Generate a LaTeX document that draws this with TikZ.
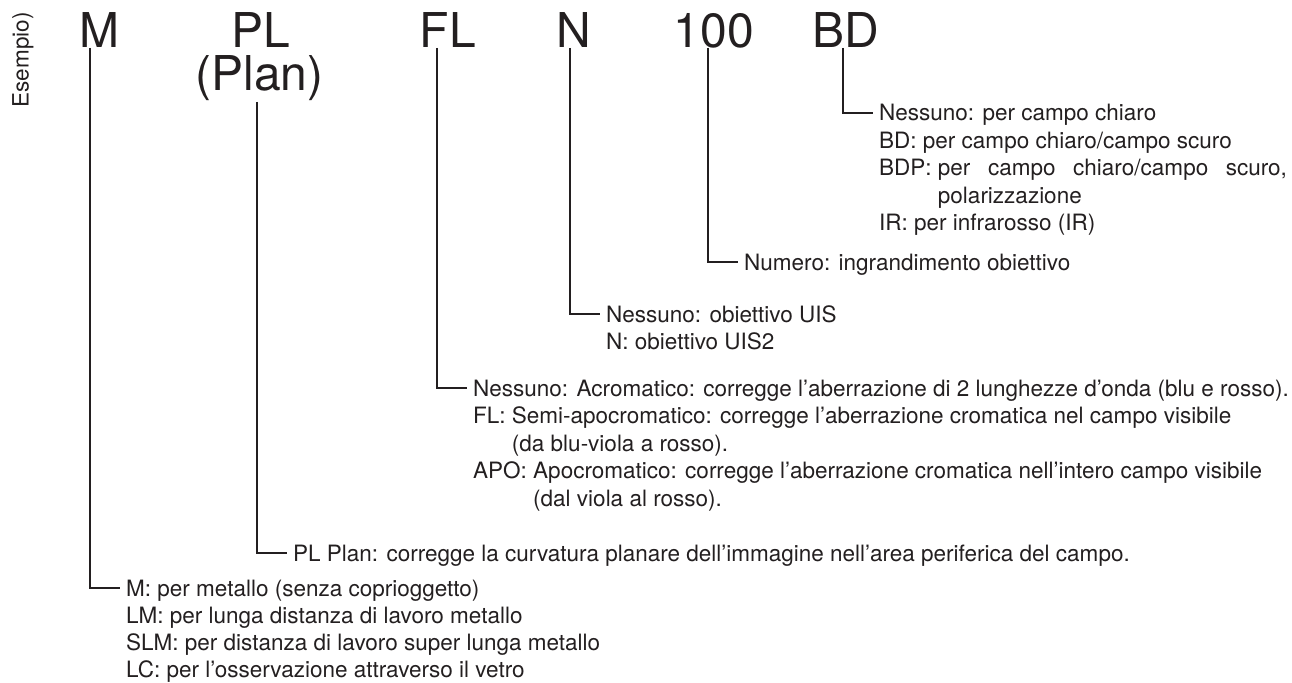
\documentclass[tikz,border=0pt]{standalone}
\usepackage{fontspec}
\setmainfont{TeX Gyre Heros}
\definecolor{ink}{HTML}{231F20}
\begin{document}
\begin{tikzpicture}[x=1bp,y=-1bp,
  big/.style={anchor=base,inner sep=0pt,font=\fontsize{48bp}{50bp}\selectfont,text=ink},
  txt/.style={anchor=base west,inner sep=0pt,font=\fontsize{22.5bp}{27bp}\selectfont,text=ink},
  conn/.style={draw=ink,line width=1.3bp}]
\useasboundingbox (0,0) rectangle (1292,683);
\node[txt,rotate=90,anchor=center] (es) at (23,60) {Esempio)};
% code letters
\node[big] (M) at (99.5,48) {M};
\node[big] (PL) at (261,48) {PL};
\node[big] (Plan) at (259.5,91) {(Plan)};
\node[big] (FL) at (448,48) {FL};
\node[big] (N) at (574,48) {N};
\node[big] (H) at (714,48) {100};
\node[big] (BD) at (846,48) {BD};
% BD block
\node[txt] (bd1) at (879,121) {Nessuno: per campo chiaro};
\node[txt] (bd2) at (879,148.5) {BD: per campo chiaro/campo scuro};
\node[txt] (bd3) at (879,176) {\rlap{BDP:}\phantom{BDP: }\makebox[349bp][s]{per campo chiaro/campo scuro,}};
\node[txt] (bd4) at (879,203.5) {\phantom{BDP: }polarizzazione};
\node[txt] (bd5) at (879,231) {IR: per infrarosso (IR)};
% 100
\node[txt] (num) at (744,270) {Numero: ingrandimento obiettivo};
% N block
\node[txt] (n1) at (606,322) {Nessuno: obiettivo UIS};
\node[txt] (n2) at (606,349.5) {N: obiettivo UIS2};
% FL block
\node[txt] (fl1) at (473,396) {Nessuno: Acromatico: corregge l’aberrazione di 2 lunghezze d’onda (blu e rosso).};
\node[txt] (fl2) at (473,423.5) {FL: Semi-apocromatico: corregge l’aberrazione cromatica nel campo visibile};
\node[txt] (fl3) at (473,451) {\phantom{FL: }(da blu-viola a rosso).};
\node[txt] (fl4) at (473,478.5) {APO: Apocromatico: corregge l’aberrazione cromatica nell’intero campo visibile};
\node[txt] (fl5) at (473,506) {\phantom{APO: }(dal viola al rosso).};
% PL
\node[txt] (pl) at (293,561) {PL Plan: corregge la curvatura planare dell’immagine nell’area periferica del campo.};
% M block
\node[txt] (m1) at (126,596) {M: per metallo (senza coprioggetto)};
\node[txt] (m2) at (126,623) {LM: per lunga distanza di lavoro metallo};
\node[txt] (m3) at (126,650) {SLM: per distanza di lavoro super lunga metallo};
\node[txt] (m4) at (126,677) {LC: per l’osservazione attraverso il vetro};
% connectors
\draw[conn] ([xshift=-9.5bp]M.base) |- ([xshift=-6bp,yshift=8bp]m1.base west);
\draw[conn] ([xshift=-2.5bp,yshift=-11bp]Plan.base) |- ([xshift=-6bp,yshift=8bp]pl.base west);
\draw[conn] ([xshift=-11bp]FL.base) |- ([xshift=-6bp,yshift=8bp]fl1.base west);
\draw[conn] ([xshift=-4bp]N.base) |- ([xshift=-6bp,yshift=8bp]n1.base west);
\draw[conn] ([xshift=-6bp]H.base) |- ([xshift=-6bp,yshift=8bp]num.base west);
\draw[conn] ([xshift=-3bp]BD.base) |- ([xshift=-6bp,yshift=8bp]bd1.base west);
\end{tikzpicture}
\end{document}
